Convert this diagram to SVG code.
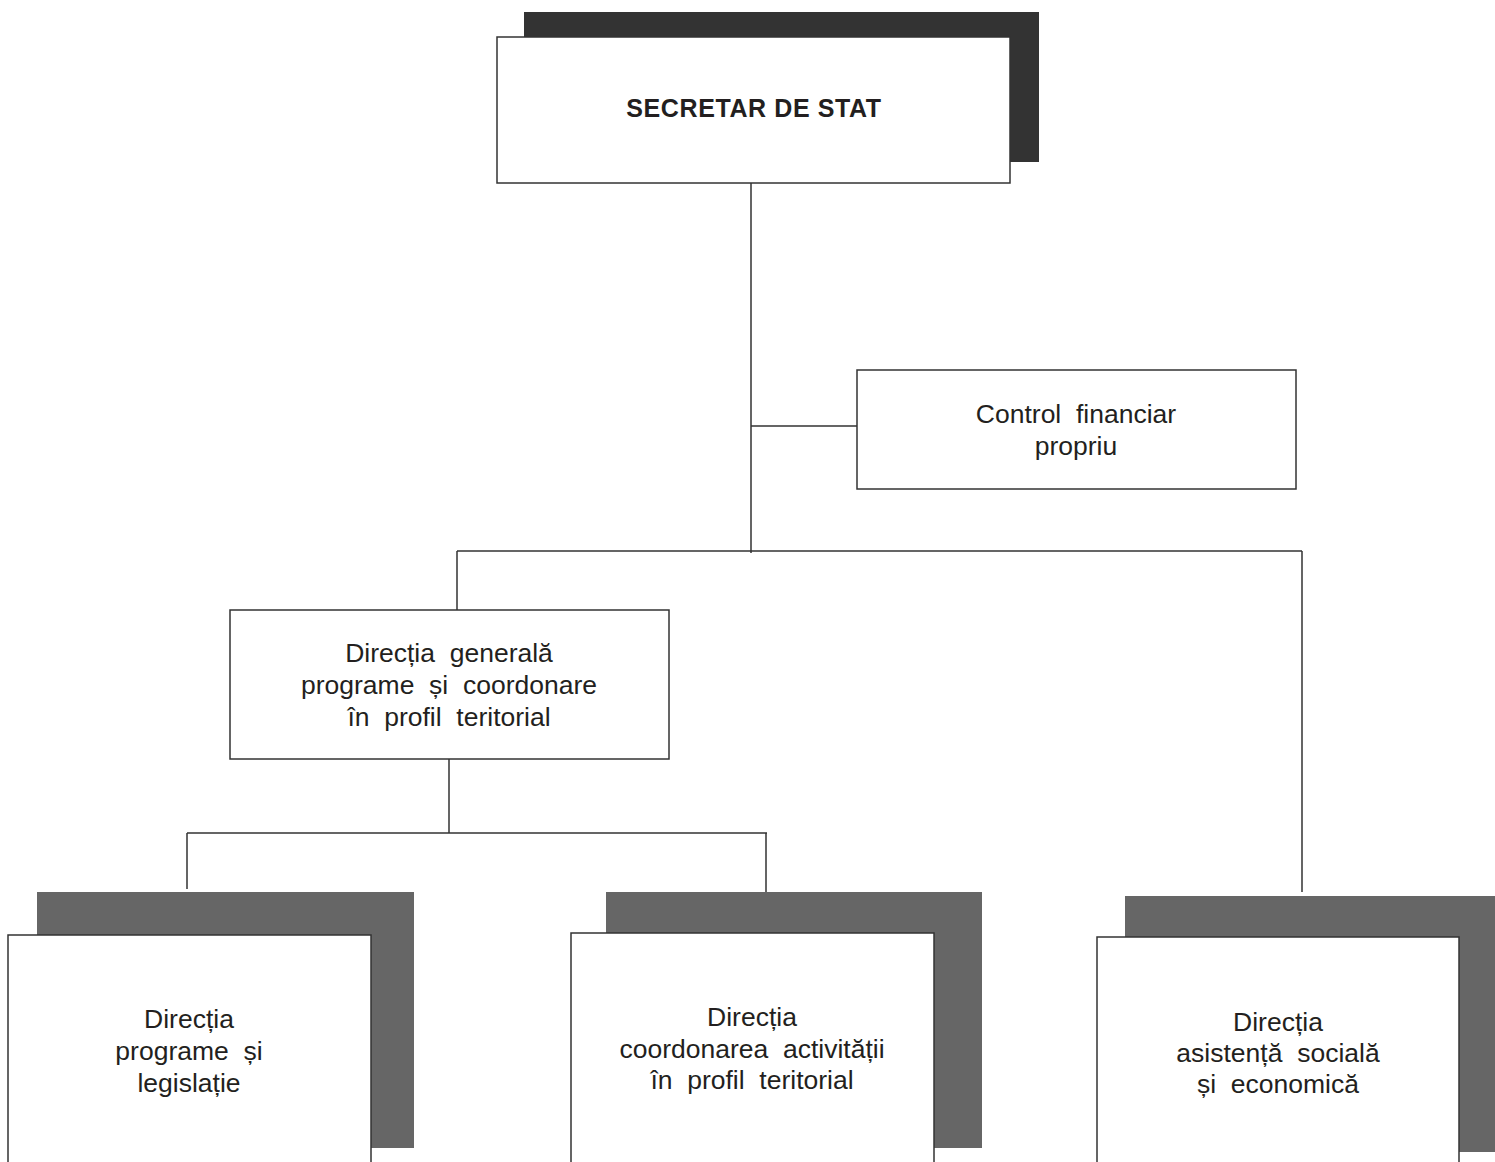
<svg xmlns="http://www.w3.org/2000/svg" width="1495" height="1162" viewBox="0 0 1495 1162">
<style>
.box{fill:#fff;stroke:#333;stroke-width:1.5}
.sh1{fill:#333}
.sh2{fill:#666}
.ln{stroke:#333;stroke-width:1.5;fill:none}
text{font-family:"Liberation Sans",Arial,sans-serif;font-size:26.5px;fill:#231f20;text-anchor:middle;white-space:pre}
.b{font-weight:bold;font-size:25px;letter-spacing:0.6px}
</style>
<rect width="1495" height="1162" fill="#fff"/>
<g id="connectors">
<path class="ln" d="M751 183V553M751 426H857M457 551H1302M457 551V610M1302 551V892M449 759V833M187 833H767M187 833V889M766 833V893"/>
</g>
<g id="secretar">
<rect class="sh1" x="524" y="12" width="515" height="150"/>
<rect class="box" x="497" y="37" width="513" height="146"/>
<text class="b" x="754" y="117">SECRETAR DE STAT</text>
</g>
<g id="control">
<rect class="box" x="857" y="370" width="439" height="119"/>
<text x="1076" y="423">Control  financiar</text>
<text x="1076" y="455">propriu</text>
</g>
<g id="dg">
<rect class="box" x="230" y="610" width="439" height="149"/>
<text x="449" y="662">Direcția  generală</text>
<text x="449" y="694">programe  și  coordonare</text>
<text x="449" y="726">în  profil  teritorial</text>
</g>
<g id="dpl">
<rect class="sh2" x="37" y="892" width="377" height="256"/>
<rect class="box" x="8" y="935" width="363" height="240"/>
<text x="189" y="1028">Direcția</text>
<text x="189" y="1060">programe  și</text>
<text x="189" y="1092">legislație</text>
</g>
<g id="dca">
<rect class="sh2" x="606" y="892" width="376" height="256"/>
<rect class="box" x="571" y="933" width="363" height="240"/>
<text x="752" y="1026">Direcția</text>
<text x="752" y="1058">coordonarea  activității</text>
<text x="752" y="1089">în  profil  teritorial</text>
</g>
<g id="dase">
<rect class="sh2" x="1125" y="896" width="375" height="256"/>
<rect class="box" x="1097" y="937" width="362" height="240"/>
<text x="1278" y="1031">Direcția</text>
<text x="1278" y="1062">asistență  socială</text>
<text x="1278" y="1093">și  economică</text>
</g>
</svg>
